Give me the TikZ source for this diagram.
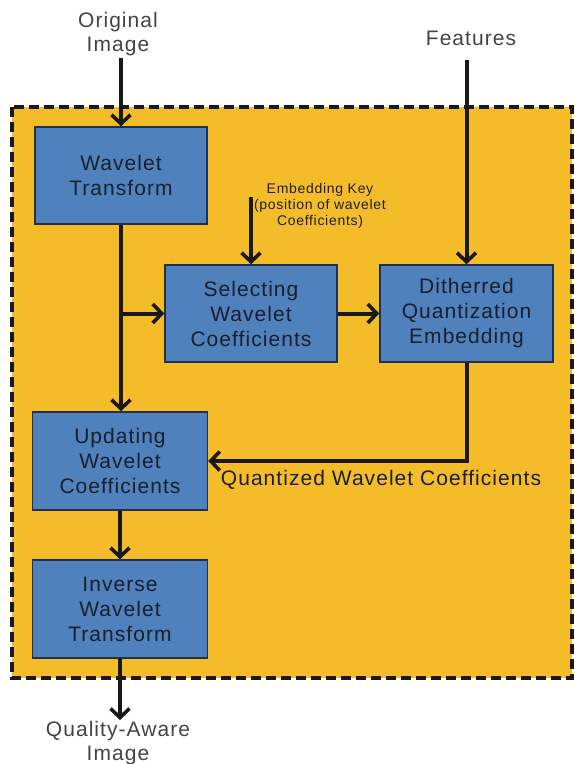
\documentclass[tikz,border=0pt]{standalone}
\usepackage{fontspec}
\setmainfont{Liberation Sans}[LetterSpace=5]
\usetikzlibrary{arrows.meta}
\definecolor{frameorange}{HTML}{F5BC2A}
\definecolor{boxblue}{HTML}{4F81BD}
\definecolor{boxedge}{HTML}{1F3050}
\definecolor{boxtext}{HTML}{1A1F2B}
\definecolor{labelgray}{HTML}{444444}
\tikzset{
  procbox/.style={draw=boxedge, line width=1.5pt, fill=boxblue, text=boxtext,
    minimum width=172pt, minimum height=97pt, align=center, inner sep=2pt,
    font=\fontsize{21}{25}\selectfont},
  outlabel/.style={text=labelgray, align=center, inner sep=1pt,
    font=\fontsize{21}{24}\selectfont},
  flow/.style={line width=4pt, draw=black!90,
    -{Straight Barb[length=9pt,width=19pt,line width=3.6pt]}}
}
\begin{document}
\begin{tikzpicture}[x=1pt,y=-1pt]
\useasboundingbox (0,0) rectangle (574,764);
% dashed frame
\path[fill=frameorange] (12,107) rectangle (572,678);
\draw[line width=3.6pt, dash pattern=on 10pt off 5pt, black!90] (12,107) rectangle (572,678);

% boxes
\node[procbox] (wt)  at (121,175.5) {Wavelet\\Transform};
\node[procbox] (sel) at (251,313.5) {Selecting\\Wavelet\\Coefficients};
\node[procbox, minimum width=173pt] (dit) at (466.5,313.5) {Ditherred\\Quantization\\Embedding};
\node[procbox, minimum width=175pt, minimum height=98pt] (upd) at (120,461) {Updating\\Wavelet\\Coefficients};
\node[procbox, minimum width=175pt, minimum height=98pt] (inv) at (120,609) {Inverse\\Wavelet\\Transform};

% labels
\node[outlabel] (orig) at (118,34) {Original\\Image};
\node[outlabel] (feat) at (471,38) {Features};
\node[outlabel] (qa) at (118,743) {Quality-Aware\\Image};
\node[text=boxtext, align=center, inner sep=1pt, font=\fontsize{14}{16}\selectfont] (key) at (320,206) {Embedding Key\\(position of wavelet\\Coefficients)};
\node[text=boxtext, inner sep=1pt, font=\fontsize{21}{24}\selectfont] (quant) at (381,480) {Quantized Wavelet Coefficients};

% coordinates for free ends
\coordinate (origend) at (121,58);
\coordinate (featend) at (466.5,60);
\coordinate (keyend) at (251,197);
\coordinate (branch) at (121,313.5);

% connectors
\draw[flow] (origend) -- (wt.north);
\draw[flow] (featend) -- (dit.north);
\draw[flow] (keyend) -- (sel.north);
\draw[flow] (wt.south) -- (wt.south |- upd.north);
\draw[flow] (branch) -- (sel.west);
\draw[flow] (sel.east) -- (dit.west);
\draw[flow] (dit.south) |- (upd.east);
\draw[flow] (upd.south) -- (inv.north);
\draw[flow] (inv.south) -- (inv.south |- qa.north);
\end{tikzpicture}
\end{document}
